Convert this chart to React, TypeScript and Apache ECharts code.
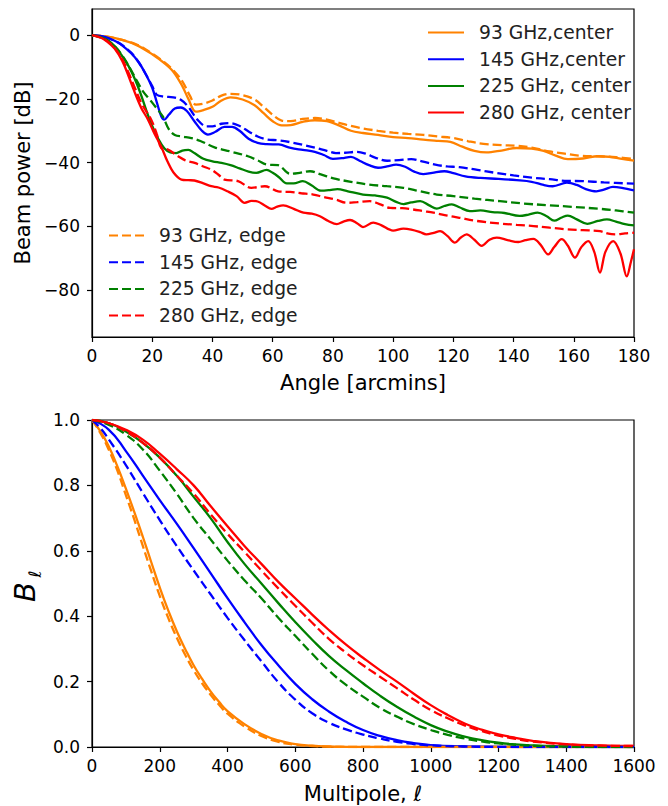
import React, { useEffect, useRef } from 'react';
import * as echarts from 'echarts';

// ---------- Top panel: beam profiles (angle [arcmin], power [dB]) ----------
const beam93Center: number[][] = [
  [0, 0], [5, -0.5], [10, -1.5], [15, -3.2], [20, -6], [24, -8.8], [27, -11.5], [30, -16], [32, -20], [34.5, -24],
  [37, -23.5], [40, -22.5], [43, -20.5], [46, -19.5], [50, -20.2], [54, -22], [57, -24.5], [60, -27], [63, -28.3],
  [66, -28.2], [70, -27.2], [74, -26.7], [78, -27], [82, -28.3], [86, -30], [90, -30.7], [95, -31.3], [100, -32],
  [105, -32.3], [110, -32.8], [115, -33.2], [119, -33.5], [123, -35], [127, -36.3], [131, -36.8], [136, -36.2],
  [141, -35.4], [146, -35.6], [150, -36.3], [154, -37.8], [158, -38.9], [163, -38.7], [168, -38], [172, -38.2],
  [176, -38.8], [180, -39.4],
];
const beam93Edge: number[][] = [
  [0, 0], [5, -0.5], [10, -1.5], [15, -3], [20, -5.8], [24, -8.5], [27, -11], [30, -14.5], [32.5, -19], [34.5, -21.8],
  [37, -21.5], [40, -20.5], [43, -19], [46, -18.4], [50, -18.8], [54, -20.2], [57, -22.5], [60, -25], [63, -26.8],
  [66, -27], [70, -26.3], [74, -26], [78, -26.5], [82, -27.5], [86, -28.5], [90, -29.3], [95, -30], [100, -30.6],
  [105, -31], [110, -31.3], [115, -31.8], [120, -32.3], [125, -33.3], [130, -34.1], [136, -34.5], [141, -34.7],
  [146, -35.3], [152, -36.5], [157, -37.2], [162, -37.8], [168, -38], [174, -38.3], [180, -38.9],
];
const beam145Center: number[][] = [
  [0, 0], [4, -0.5], [8, -2], [10, -3.2], [13, -5.7], [15.5, -8.5], [18, -12.5], [20, -16.5], [21.5, -21], [23, -25.5],
  [24, -26.5], [25.5, -25], [27.5, -23], [29.5, -22.7], [31.5, -23.8], [34, -27], [36.5, -30], [38.5, -31.2],
  [41, -30.3], [44, -28.8], [46.5, -28.8], [49, -30], [52, -32.5], [55, -33.8], [58, -34.2], [62, -34.3], [66, -35.4],
  [70, -36], [74, -36.6], [77, -37.6], [80, -38.8], [83, -38.6], [86, -38.2], [89, -39.5], [92, -40.8], [95, -41.6],
  [98, -41.2], [101, -40.6], [104, -41.3], [107, -42.8], [110, -43.6], [113, -43.2], [117, -42.7], [120, -43.3],
  [124, -44.3], [129, -44.8], [135, -45.1], [141, -45.5], [146, -46], [150, -47], [153, -47.4], [157.7, -46.3],
  [161, -47], [164, -48.3], [167.5, -49], [170, -48.5], [173, -47.6], [176, -47.9], [180, -48.7],
];
const beam145Edge: number[][] = [
  [0, 0], [4, -0.5], [8, -2], [10, -3.1], [13, -5.5], [15.5, -8.5], [18, -12.5], [20, -16], [21.5, -18.7], [24, -19.3],
  [27, -19.5], [29.5, -20.3], [32, -22.5], [35, -26.5], [38, -28.6], [40, -28.6], [43, -27.8], [46, -27.6], [49, -28.5],
  [52, -30.2], [55, -31.8], [58, -32.7], [62, -33], [66, -33.6], [70, -34.4], [74, -35.3], [78, -36.3], [81, -37],
  [84, -36.9], [88, -36.6], [91, -37.2], [94, -38.4], [98, -39.4], [102, -39.2], [106, -38.9], [110, -39.7],
  [114, -40.6], [118, -41.2], [122, -41.4], [128, -42.3], [134, -43.2], [140, -44], [146, -44.7], [152, -45.2],
  [157, -45.7], [163, -45.8], [170, -46.2], [180, -46.6],
];
const beam225Center: number[][] = [
  [0, 0], [4, -1], [7, -3], [9.6, -6], [12, -9.5], [14, -13.3], [16, -18], [18, -23.5], [20, -28.5], [22, -32.5],
  [24, -35.5], [26, -36.8], [28, -37], [30, -36.2], [32, -36], [34, -37], [37, -38.8], [40, -39.6], [43, -40.1],
  [46, -40.8], [49, -41.8], [52, -42.8], [54.5, -43.2], [58, -42.3], [60, -43.2], [62, -44.5], [64.7, -46.5],
  [67, -46.5], [70, -45.8], [73, -47.2], [76, -48.8], [79, -48.6], [81.5, -48.3], [85, -49], [90, -50], [94, -50.3],
  [98, -51], [101, -52.3], [103.5, -53], [106, -52.5], [109, -52.1], [112, -53.4], [114.5, -54.4], [117, -53.6],
  [119.5, -53.1], [122, -54], [125.5, -55.2], [129, -55], [133, -55.5], [137, -55.8], [142, -56.7], [145, -56.3],
  [148, -55.7], [151, -56.8], [153.5, -58.2], [156, -57.2], [158, -56.6], [161, -57.8], [164.5, -59.2], [168, -58.3],
  [171, -57.8], [174, -58.5], [177, -59.3], [180, -59.7],
];
const beam225Edge: number[][] = [
  [0, 0], [4, -1], [7, -3], [10, -6.3], [13, -11], [15, -14.5], [17, -17.7], [19, -20], [21.5, -23], [23.5, -25.5],
  [25.5, -29.5], [27.5, -31.3], [30, -31.8], [33, -32.3], [36, -33.2], [40.7, -35.2], [46, -36.5], [51.8, -38],
  [55, -39.3], [58, -40.6], [61.8, -40.8], [65.8, -43.5], [69, -43.2], [72.4, -42.7], [76, -43.7], [81, -45.1],
  [86, -46], [92, -46.9], [98, -47.4], [103.4, -47.9], [109, -49], [114.5, -50], [120, -50.5], [127, -51.3],
  [135.5, -52.1], [143, -52.8], [152, -53.4], [160, -53.9], [168.7, -54.5], [174, -55], [180, -55.7],
];
const beam280Center: number[][] = [
  [0, 0], [3, -0.8], [5, -2], [7.5, -4.2], [10, -8], [12, -12.5], [14, -17.5], [16.4, -22.9], [18.6, -26.5],
  [20.8, -31], [23, -35], [25, -39.5], [27, -43], [29.7, -45.3], [32, -45.5], [34, -45.6], [37, -46.5], [39.6, -47.4],
  [42, -47.8], [45, -49], [48, -50.5], [50.7, -52.6], [53, -52], [55, -52.2], [57.5, -53.5], [59.6, -54.5],
  [61.5, -53.8], [63.5, -53.4], [67, -54.5], [70.2, -55.7], [73, -56], [75.7, -56.8], [78.5, -58.3], [81.3, -59.3],
  [83.5, -58.5], [85.7, -58], [88, -59], [90, -60.2], [93.4, -58.8], [96, -59.6], [100, -61.3], [103.4, -60.7],
  [106, -61], [109, -61.8], [111, -62.5], [113.5, -62], [115.6, -61.5], [118, -63], [120.5, -65.1], [122.5, -63.5],
  [124.4, -62.5], [127, -64.2], [129.4, -66.1], [132, -64.2], [134.4, -63.5], [138, -64.3], [141.6, -64.9],
  [144, -64.3], [146.6, -63.9], [149, -65.8], [151.5, -68.8], [153.5, -66.5], [156, -64], [158, -66], [160.4, -69.8],
  [162.5, -66.5], [164.8, -64.6], [166.8, -68], [168.7, -74.5], [170.5, -68], [173.1, -64.6], [175.5, -68.5],
  [177.6, -75.7], [179, -71], [180, -67.2],
];
const beam280Edge: number[][] = [
  [0, 0], [3, -0.8], [5, -1.8], [7.5, -4], [10, -7.5], [12, -11.5], [14, -16], [16.5, -21.5], [19.7, -26.6],
  [21.5, -31], [23, -35.4], [25.2, -35.9], [28.6, -38], [31, -39.3], [34.1, -40.1], [37, -41.2], [39.6, -42.2],
  [42, -43.8], [44, -45.3], [48.5, -45.8], [52.9, -47.9], [57.4, -47.4], [61.8, -49], [65.8, -49.2], [69.5, -49.6],
  [73.5, -50], [77, -50.8], [81, -51.6], [84.6, -52.6], [88, -52.4], [92.3, -52.1], [96, -53.2], [99, -54.2],
  [103, -54.3], [106.7, -54.7], [110, -55.2], [113.4, -55.7], [118, -56.6], [122, -57.3], [127.8, -58.3],
  [135.5, -59.1], [141, -59.5], [146.6, -59.9], [152, -60.4], [157.6, -60.9], [163, -61.2], [168.7, -61.5],
  [171.5, -62.3], [174.2, -62.5], [177, -62.2], [180, -62],
];

// ---------- Bottom panel: window functions (multipole, B_l) ----------
const bl93Center: number[][] = [
  [0, 1], [25, 0.965], [50, 0.918], [75, 0.858], [100, 0.79], [125, 0.718], [150, 0.643], [175, 0.565], [200, 0.488],
  [225, 0.418], [250, 0.355], [275, 0.3], [300, 0.25], [325, 0.208], [350, 0.17], [375, 0.138], [400, 0.11],
  [450, 0.07], [500, 0.04], [550, 0.02], [600, 0.009], [650, 0.004], [700, 0.0015], [750, 0.0005], [800, 0], [1600, 0],
];
const bl93Edge: number[][] = [
  [0, 1], [25, 0.96], [50, 0.908], [75, 0.845], [100, 0.77], [125, 0.695], [150, 0.615], [175, 0.537], [200, 0.462],
  [225, 0.395], [250, 0.335], [275, 0.282], [300, 0.235], [325, 0.195], [350, 0.16], [375, 0.129], [400, 0.102],
  [450, 0.063], [500, 0.034], [550, 0.016], [600, 0.007], [650, 0.003], [700, 0.001], [800, 0], [1600, 0],
];
const bl145Center: number[][] = [
  [0, 1], [50, 0.97], [100, 0.905], [150, 0.83], [200, 0.755], [250, 0.683], [300, 0.608], [350, 0.532], [400, 0.455],
  [450, 0.382], [500, 0.312], [550, 0.25], [600, 0.193], [650, 0.146], [700, 0.108], [750, 0.077], [800, 0.052],
  [850, 0.034], [900, 0.021], [950, 0.012], [1000, 0.006], [1100, 0.002], [1200, 0.0005], [1300, 0], [1600, 0],
];
const bl145Edge: number[][] = [
  [0, 1], [25, 0.975], [50, 0.94], [100, 0.862], [150, 0.777], [200, 0.694], [250, 0.615], [300, 0.54], [350, 0.467],
  [400, 0.395], [450, 0.327], [500, 0.262], [550, 0.198], [600, 0.145], [650, 0.103], [700, 0.074], [750, 0.054],
  [800, 0.038], [850, 0.026], [900, 0.016], [950, 0.009], [1000, 0.005], [1100, 0.0015], [1200, 0.0004], [1300, 0], [1600, 0],
];
const bl225Center: number[][] = [
  [0, 1], [50, 0.99], [100, 0.965], [150, 0.93], [200, 0.885], [250, 0.83], [300, 0.765], [350, 0.7], [400, 0.627],
  [450, 0.56], [500, 0.5], [550, 0.44], [600, 0.382], [650, 0.328], [700, 0.278], [750, 0.235], [800, 0.195],
  [850, 0.157], [900, 0.123], [950, 0.093], [1000, 0.067], [1050, 0.047], [1100, 0.032], [1150, 0.021], [1200, 0.013],
  [1250, 0.008], [1300, 0.005], [1400, 0.0015], [1500, 0.0003], [1600, 0],
];
const bl225Edge: number[][] = [
  [0, 1], [50, 0.985], [100, 0.955], [150, 0.91], [200, 0.845], [250, 0.775], [300, 0.7], [350, 0.635], [400, 0.57],
  [450, 0.51], [500, 0.455], [550, 0.395], [600, 0.34], [650, 0.285], [700, 0.233], [750, 0.19], [800, 0.154],
  [850, 0.12], [900, 0.093], [950, 0.07], [1000, 0.052], [1050, 0.037], [1100, 0.026], [1150, 0.017], [1200, 0.011],
  [1300, 0.004], [1400, 0.001], [1500, 0], [1600, 0],
];
const bl280Center: number[][] = [
  [0, 1], [50, 0.99], [100, 0.97], [150, 0.94], [200, 0.897], [250, 0.85], [300, 0.8], [350, 0.737], [400, 0.675],
  [450, 0.615], [500, 0.56], [550, 0.505], [600, 0.455], [650, 0.405], [700, 0.357], [750, 0.313], [800, 0.273],
  [850, 0.235], [900, 0.2], [950, 0.163], [1000, 0.128], [1050, 0.098], [1100, 0.072], [1150, 0.053], [1200, 0.039],
  [1250, 0.028], [1300, 0.019], [1400, 0.009], [1500, 0.005], [1600, 0.003],
];
const bl280Edge: number[][] = [
  [0, 1], [50, 0.99], [100, 0.965], [150, 0.93], [200, 0.885], [250, 0.83], [300, 0.775], [350, 0.712], [400, 0.652],
  [450, 0.597], [500, 0.54], [550, 0.485], [600, 0.432], [650, 0.38], [700, 0.33], [750, 0.288], [800, 0.25],
  [850, 0.215], [900, 0.18], [950, 0.145], [1000, 0.113], [1050, 0.088], [1100, 0.066], [1150, 0.049], [1200, 0.035],
  [1250, 0.025], [1300, 0.017], [1400, 0.008], [1500, 0.004], [1600, 0.003],
];

const centerNames = ['93 GHz,center', '145 GHz,center', '225 GHz, center', '280 GHz, center'];
const edgeNames = ['93 GHz, edge', '145 GHz, edge', '225 GHz, edge', '280 GHz, edge'];
const dbTicks = [-80, -60, -40, -20, 0];

const COLORS = ['#ff8200', '#0000ff', '#008000', '#ff0000'];
const FONT = '"DejaVu Sans", "Noto Sans", sans-serif';

function lineSeries(name: string, data: number[][], color: string, dashed: boolean, idx: number, smooth: number) {
  return {
    type: 'line',
    name,
    data,
    xAxisIndex: idx,
    yAxisIndex: idx,
    symbol: 'none',
    smooth,
    z: dashed ? 3 : 2,
    lineStyle: { color, width: 2.3, type: dashed ? [9, 4] : 'solid' },
    itemStyle: { color },
  };
}

const minusFmt = (v: number) => String(v).replace('-', '\u2212');

export default function App() {
  const ref = useRef<HTMLDivElement>(null);
  useEffect(() => {
    if (!ref.current) return;
    const chart = echarts.init(ref.current, undefined, { renderer: 'svg' });
    const centers = [beam93Center, beam145Center, beam225Center, beam280Center];
    const edges = [beam93Edge, beam145Edge, beam225Edge, beam280Edge];
    const blCenters = [bl93Center, bl145Center, bl225Center, bl280Center];
    const blEdges = [bl93Edge, bl145Edge, bl225Edge, bl280Edge];
    const series: any[] = [];
    for (let i = 0; i < 4; i++) {
      series.push(lineSeries(centerNames[i], centers[i], COLORS[i], false, 0, 0.35));
    }
    for (let i = 0; i < 4; i++) {
      series.push(lineSeries(edgeNames[i], edges[i], COLORS[i], true, 0, 0.35));
    }
    for (let i = 0; i < 4; i++) {
      series.push(lineSeries('Bl center ' + i, blCenters[i], COLORS[i], false, 1, 0.5));
      series.push(lineSeries('Bl edge ' + i, blEdges[i], COLORS[i], true, 1, 0.5));
    }
    const axisCommon = {
      axisLine: { show: true, onZero: false, lineStyle: { color: '#000', width: 1.2 } },
      axisTick: { show: true, inside: false, length: 5, lineStyle: { color: '#000', width: 1.2 } },
      splitLine: { show: false },
      nameTextStyle: { color: '#000', fontSize: 21, fontFamily: FONT },
      nameLocation: 'middle',
    };
    const labelCommon = { color: '#000', fontSize: 17, fontFamily: FONT };
    const legendCommon = {
      orient: 'vertical',
      padding: 0,
      itemWidth: 36, itemHeight: 14, itemGap: 7.7,
      itemStyle: { opacity: 0 },
      selectedMode: false,
    };
    chart.setOption({
      animation: false,
      backgroundColor: '#fff',
      textStyle: { fontFamily: FONT },
      grid: [
        { left: 92, top: 9, width: 542, height: 328, show: true, borderColor: '#000', borderWidth: 1.2, backgroundColor: 'transparent' },
        { left: 92, top: 420, width: 542, height: 327, show: true, borderColor: '#000', borderWidth: 1.2, backgroundColor: 'transparent' },
      ],
      xAxis: [
        {
          ...axisCommon, type: 'value', gridIndex: 0, min: 0, max: 180, interval: 20,
          name: 'Angle [arcmins]', nameGap: 35,
          axisLabel: { ...labelCommon, margin: 10, formatter: (v: number) => String(v) },
        },
        {
          ...axisCommon, type: 'value', gridIndex: 1, min: 0, max: 1600, interval: 200,
          name: 'Multipole, \u2113', nameGap: 36,
          axisLabel: { ...labelCommon, margin: 10, formatter: (v: number) => String(v) },
        },
      ],
      yAxis: [
        {
          ...axisCommon, type: 'value', gridIndex: 0, min: -94.7, max: 8.2,
          name: 'Beam power [dB]', nameGap: 55, nameRotate: 90,
          axisTick: { ...axisCommon.axisTick, customValues: dbTicks },
          axisLabel: { ...labelCommon, margin: 12, customValues: dbTicks, formatter: minusFmt },
        },
        {
          ...axisCommon, type: 'value', gridIndex: 1, min: 0, max: 1, interval: 0.2,
          axisLabel: { ...labelCommon, margin: 12, formatter: (v: number) => v.toFixed(1) },
        },
      ],
      legend: [
        {
          ...legendCommon, data: centerNames, left: 427, top: 23,
          textStyle: { color: '#222', fontSize: 18.7, fontFamily: FONT, lineHeight: 18, padding: [0, 0, 0, 10] },
        },
        {
          ...legendCommon, data: edgeNames, left: 108, top: 226,
          textStyle: { color: '#222', fontSize: 18.7, fontFamily: FONT, lineHeight: 18, padding: [0, 0, 0, 9] },
        },
      ],
      graphic: [
        {
          type: 'group', x: 25, y: 592, rotation: Math.PI / 2,
          children: [
            { type: 'text', x: 0, y: 0, style: { text: 'B', font: `italic 29px ${FONT}`, fill: '#000', textAlign: 'center', textVerticalAlign: 'middle' } },
            { type: 'text', x: 18, y: 10, style: { text: '\u2113', font: `italic 17px ${FONT}`, fill: '#000', textAlign: 'center', textVerticalAlign: 'middle' } },
          ],
        },
      ],
      series,
    });
    return () => chart.dispose();
  }, []);
  return <div ref={ref} style={{ position: 'fixed', left: 0, top: 0, width: 668, height: 806, background: '#fff' }} />;
}
